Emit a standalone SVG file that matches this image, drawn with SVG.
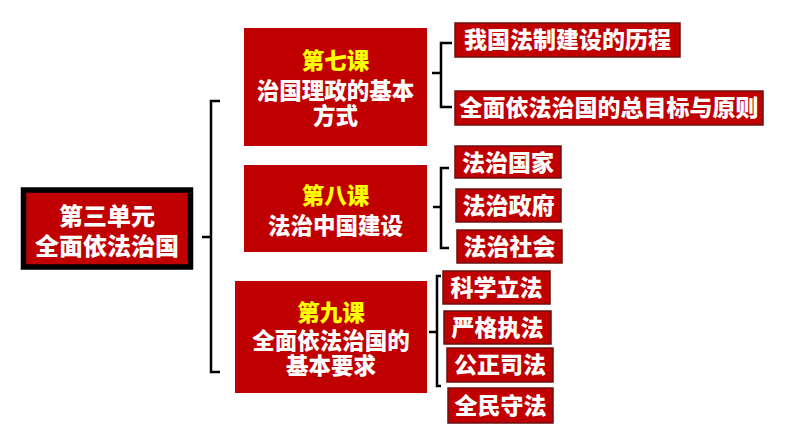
<svg xmlns="http://www.w3.org/2000/svg" width="794" height="447" viewBox="0 0 794 447">
<style>
.box{fill:#C00000}
.item{fill:#C00000;stroke:#6a1010;stroke-width:1.5}
.t{font-family:"Liberation Sans","Noto Sans CJK SC",sans-serif;font-weight:900;fill:#fff;text-anchor:middle}
.y{fill:#FFFF00}
.br{fill:none;stroke:#000;stroke-width:2.5;stroke-linejoin:miter}
</style>
<rect width="794" height="447" fill="#fff"/>
<g id="connectors">
<path class="br" d="M220,101 H211 V372 H220 M211,237 H202"/>
<path class="br" d="M452,43 H441 V107 H452 M441,73 H432"/>
<path class="br" d="M449,168 H441 V248 H449 M441,207 H433"/>
<path class="br" d="M441,276 H437 V386 H441 M437,332 H429"/>
</g>
<g id="root">
<rect x="23.5" y="190" width="167" height="77" fill="#C00000" stroke="#000" stroke-width="5.5"/>
<text class="t" x="107" y="225" font-size="24">第三单元</text>
<text class="t" x="107" y="255" font-size="24">全面依法治国</text>
</g>
<g id="lesson7">
<rect class="box" x="244" y="28" width="183" height="118"/>
<text class="t y" x="335.5" y="69" font-size="22.5">第七课</text>
<text class="t" x="335.5" y="99" font-size="22.5">治国理政的基本</text>
<text class="t" x="335.5" y="124" font-size="22.5">方式</text>
</g>
<g id="lesson8">
<rect class="box" x="244" y="165" width="183" height="87"/>
<text class="t y" x="335.5" y="204" font-size="22.5">第八课</text>
<text class="t" x="335.5" y="234" font-size="22.5">法治中国建设</text>
</g>
<g id="lesson9">
<rect class="box" x="235" y="281" width="192" height="112"/>
<text class="t y" x="331" y="321" font-size="22.5">第九课</text>
<text class="t" x="331" y="349" font-size="22.5">全面依法治国的</text>
<text class="t" x="331" y="374" font-size="22.5">基本要求</text>
</g>
<g id="item1">
<rect class="item" x="455" y="23" width="225" height="34"/>
<text class="t" x="567.5" y="48" font-size="23">我国法制建设的历程</text>
</g>
<g id="item2">
<rect class="item" x="455" y="91" width="308" height="34"/>
<text class="t" x="609" y="116" font-size="23">全面依法治国的总目标与原则</text>
</g>
<g id="item3">
<rect class="item" x="455" y="146" width="106" height="32"/>
<text class="t" x="508" y="171" font-size="23">法治国家</text>
</g>
<g id="item4">
<rect class="item" x="456" y="189" width="105" height="33"/>
<text class="t" x="508.5" y="214" font-size="23">法治政府</text>
</g>
<g id="item5">
<rect class="item" x="457" y="230" width="105" height="33"/>
<text class="t" x="509.5" y="255" font-size="23">法治社会</text>
</g>
<g id="item6">
<rect class="item" x="443" y="271" width="107" height="33"/>
<text class="t" x="496.5" y="296" font-size="23">科学立法</text>
</g>
<g id="item7">
<rect class="item" x="444" y="311" width="107" height="33"/>
<text class="t" x="497.5" y="336" font-size="23">严格执法</text>
</g>
<g id="item8">
<rect class="item" x="447" y="348" width="106" height="34"/>
<text class="t" x="500" y="373" font-size="23">公正司法</text>
</g>
<g id="item9">
<rect class="item" x="448" y="388" width="105" height="35"/>
<text class="t" x="500.5" y="414" font-size="23">全民守法</text>
</g>
</svg>
